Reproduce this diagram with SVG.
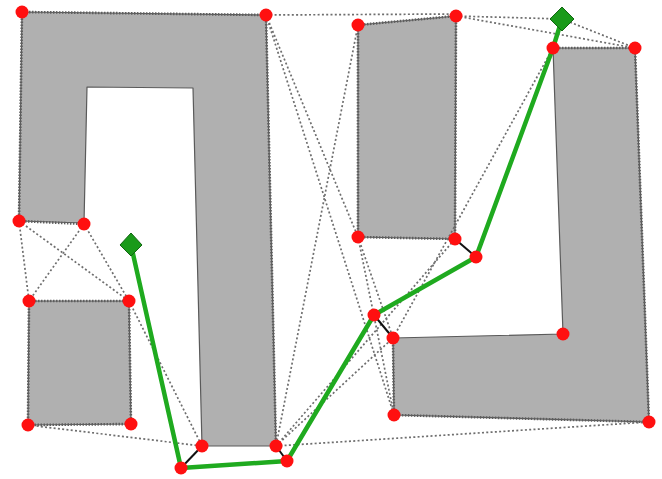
<svg xmlns="http://www.w3.org/2000/svg" width="662" height="479" viewBox="0 0 662 479">
<style>
.obs{fill:#b0b0b0;stroke:#5a5a5a;stroke-width:1.2;stroke-linejoin:round}
.vis{fill:none;stroke:#6e6e6e;stroke-width:1.7;stroke-dasharray:2 2.3}
.edge{fill:none;stroke:#5e5e5e;stroke-width:2.6;stroke-dasharray:1.5 1.5}
.path{fill:none;stroke:#1faa1f;stroke-width:4.5;stroke-linejoin:round;stroke-linecap:round}
.off{stroke:#111;stroke-width:2}
.pt{fill:#ff1010}
.goal{fill:#1a9a1a;stroke:#116611;stroke-width:1}
</style>
<rect width="662" height="479" fill="#fff"/>
<g id="obstacles">
<g id="obstacle-pi"><polygon class="obs" points="22,12 266,15 276,446 202,446 193,88 87,87 84,223 19,221"/></g>
<g id="obstacle-small"><polygon class="obs" points="29,301 129,301 131,424 28,425"/></g>
<g id="obstacle-mid"><polygon class="obs" points="358,25 456,16 455,239 358,237"/></g>
<g id="obstacle-l"><polygon class="obs" points="553,48 635,48 649,422 394,415 393,338 563,334"/></g>
</g>
<g id="connectors">
<g id="obstacle-edges">
<polyline class="edge" points="19,221 22,12 266,15 276,446"/>
<line class="edge" x1="19" y1="221" x2="84" y2="224"/>
<polygon class="edge" points="29,301 129,301 131,424 28,425"/>
<polygon class="edge" points="358,25 456,16 455,239 358,237"/>
<polyline class="edge" points="553,48 635,48 649,422 394,415 393,338"/>
</g>
<g id="visibility">
<line class="vis" x1="266" y1="15" x2="456" y2="14"/>
<line class="vis" x1="456" y1="16" x2="562" y2="19"/>
<line class="vis" x1="456" y1="16" x2="635" y2="48"/>
<line class="vis" x1="562" y1="19" x2="635" y2="48"/>
<line class="vis" x1="19" y1="221" x2="29" y2="301"/>
<line class="vis" x1="19" y1="221" x2="129" y2="301"/>
<line class="vis" x1="84" y1="224" x2="29" y2="301"/>
<line class="vis" x1="84" y1="224" x2="129" y2="301"/>
<line class="vis" x1="129" y1="301" x2="202" y2="446"/>
<line class="vis" x1="28" y1="425" x2="202" y2="446"/>
<line class="vis" x1="266" y1="15" x2="358" y2="237"/>
<line class="vis" x1="266" y1="15" x2="394" y2="415"/>
<line class="vis" x1="358" y1="25" x2="276" y2="446"/>
<line class="vis" x1="358" y1="237" x2="394" y2="415"/>
<line class="vis" x1="358" y1="237" x2="393" y2="338"/>
<line class="vis" x1="276" y1="446" x2="393" y2="338"/>
<line class="vis" x1="276" y1="446" x2="455" y2="239"/>
<line class="vis" x1="276" y1="446" x2="649" y2="422"/>
<line class="vis" x1="393" y1="338" x2="553" y2="48"/>
</g>
<g id="offsets">
<line class="off" x1="181" y1="468" x2="202" y2="446"/>
<line class="off" x1="287" y1="461" x2="276" y2="446"/>
<line class="off" x1="374" y1="315" x2="393" y2="338"/>
<line class="off" x1="476" y1="257" x2="455" y2="239"/>
</g>
<g id="route">
<polyline class="path" points="131,245 181,468 287,461 374,315 476,257 553,48 562,19"/>
</g>
</g>
<g id="vertices">
<circle class="pt" cx="22" cy="12" r="6.5"/>
<circle class="pt" cx="266" cy="15" r="6.5"/>
<circle class="pt" cx="19" cy="221" r="6.5"/>
<circle class="pt" cx="84" cy="224" r="6.5"/>
<circle class="pt" cx="202" cy="446" r="6.5"/>
<circle class="pt" cx="276" cy="446" r="6.5"/>
<circle class="pt" cx="29" cy="301" r="6.5"/>
<circle class="pt" cx="129" cy="301" r="6.5"/>
<circle class="pt" cx="28" cy="425" r="6.5"/>
<circle class="pt" cx="131" cy="424" r="6.5"/>
<circle class="pt" cx="358" cy="25" r="6.5"/>
<circle class="pt" cx="456" cy="16" r="6.5"/>
<circle class="pt" cx="358" cy="237" r="6.5"/>
<circle class="pt" cx="455" cy="239" r="6.5"/>
<circle class="pt" cx="553" cy="48" r="6.5"/>
<circle class="pt" cx="635" cy="48" r="6.5"/>
<circle class="pt" cx="563" cy="334" r="6.5"/>
<circle class="pt" cx="393" cy="338" r="6.5"/>
<circle class="pt" cx="394" cy="415" r="6.5"/>
<circle class="pt" cx="649" cy="422" r="6.5"/>
</g>
<g id="waypoints">
<circle class="pt" cx="181" cy="468" r="6.5"/>
<circle class="pt" cx="287" cy="461" r="6.5"/>
<circle class="pt" cx="374" cy="315" r="6.5"/>
<circle class="pt" cx="476" cy="257" r="6.5"/>
</g>
<g id="start"><polygon class="goal" points="131,233 142,245 131,256 120,245"/></g>
<g id="goal"><polygon class="goal" points="562,7 574,19 562,31 550,19"/></g>
</svg>
